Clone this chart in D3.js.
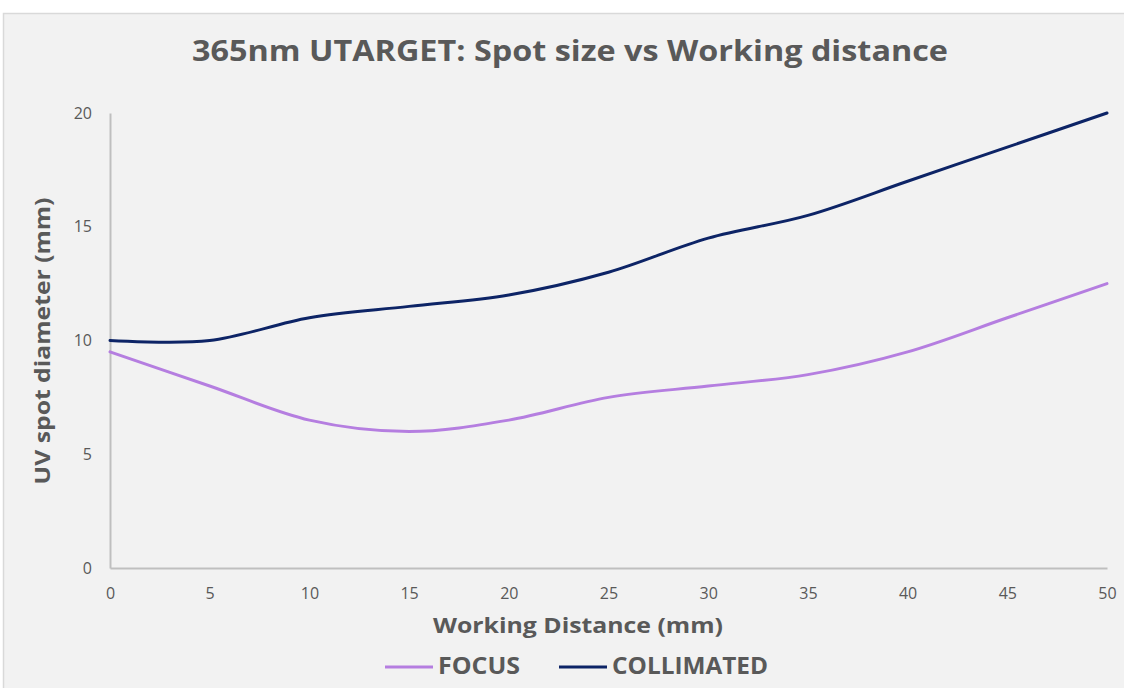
<!DOCTYPE html>
<html><head><meta charset="utf-8">
<script src="https://cdn.jsdelivr.net/npm/d3@7"></script>
<style>html,body{margin:0;padding:0;background:#fff;}svg{display:block;}</style>
</head><body>
<script>
const distances = [0,5,10,15,20,25,30,35,40,45,50];
const focus =      [9.5,8,6.5,6,6.5,7.5,8,8.5,9.5,11,12.5];
const collimated = [10,10,11,11.5,12,13,14.5,15.5,17,18.5,20];
const xTicks = [0,5,10,15,20,25,30,35,40,45,50];
const yTicks = [0,5,10,15,20];
const seriesNames = ["FOCUS","COLLIMATED"];
const seriesColors = ["#b57ee0","#0d2466"];

const W=1124,H=688;
const svg=d3.select("body").append("svg").attr("width",W).attr("height",H);
svg.append("rect").attr("x",3.5).attr("y",13.5).attr("width",W).attr("height",H).attr("fill","#f2f2f2").attr("stroke","#d9d9d9").attr("stroke-width",1.5);

const x=d3.scaleLinear().domain([0,50]).range([110,1107]);
const y=d3.scaleLinear().domain([0,20]).range([568,113]);
const font="'Open Sans', Lato, sans-serif";
const tickFont="'Open Sans', sans-serif";

svg.append("text").attr("x",570).attr("y",61).attr("text-anchor","middle")
  .attr("font-family",font).attr("font-weight","bold").attr("font-size",28).attr("fill","#595959")
  .attr("textLength",756).attr("lengthAdjust","spacingAndGlyphs")
  .text("365nm UTARGET: Spot size vs Working distance");

const gx=svg.append("g").attr("transform","translate(0,568)")
  .call(d3.axisBottom(x).tickValues(xTicks).tickSize(0).tickPadding(20));
const gy=svg.append("g").attr("transform","translate(110,0)")
  .call(d3.axisLeft(y).tickValues(yTicks).tickSize(0).tickPadding(18));
[gx,gy].forEach(g=>{
  g.select(".domain").attr("stroke","#bfbfbf").attr("stroke-width",2);
  g.selectAll("text").attr("font-family",tickFont).attr("font-size",16).attr("fill","#595959");
});
gx.selectAll("text").attr("dy","0.71em").attr("y",20);

svg.append("text").attr("x",578).attr("y",633).attr("text-anchor","middle")
  .attr("font-family",font).attr("font-weight","bold").attr("font-size",22).attr("fill","#595959")
  .attr("textLength",290).attr("lengthAdjust","spacingAndGlyphs")
  .text("Working Distance (mm)");
svg.append("text").attr("transform","translate(50,341) rotate(-90)").attr("text-anchor","middle")
  .attr("font-family",font).attr("font-weight","bold").attr("font-size",22).attr("fill","#595959")
  .attr("textLength",287).attr("lengthAdjust","spacingAndGlyphs")
  .text("UV spot diameter (mm)");

const line=d3.line().x(d=>x(d[0])).y(d=>y(d[1])).curve(d3.curveCardinal.tension(0));
[focus,collimated].forEach((s,i)=>{
  svg.append("path").datum(distances.map((d,j)=>[d,s[j]]))
    .attr("d",line).attr("fill","none").attr("stroke",seriesColors[i]).attr("stroke-width",3).attr("stroke-linecap","round");
});

const legX=[385,559];
const legLen=[82,156];
seriesNames.forEach((n,i)=>{
  svg.append("line").attr("x1",legX[i]).attr("x2",legX[i]+48).attr("y1",667).attr("y2",667)
    .attr("stroke",seriesColors[i]).attr("stroke-width",3);
  svg.append("text").attr("x",legX[i]+53).attr("y",674)
    .attr("font-family",font).attr("font-weight","bold").attr("font-size",24).attr("fill","#595959")
    .attr("textLength",legLen[i]).attr("lengthAdjust","spacingAndGlyphs").text(n);
});
</script>
</body></html>
